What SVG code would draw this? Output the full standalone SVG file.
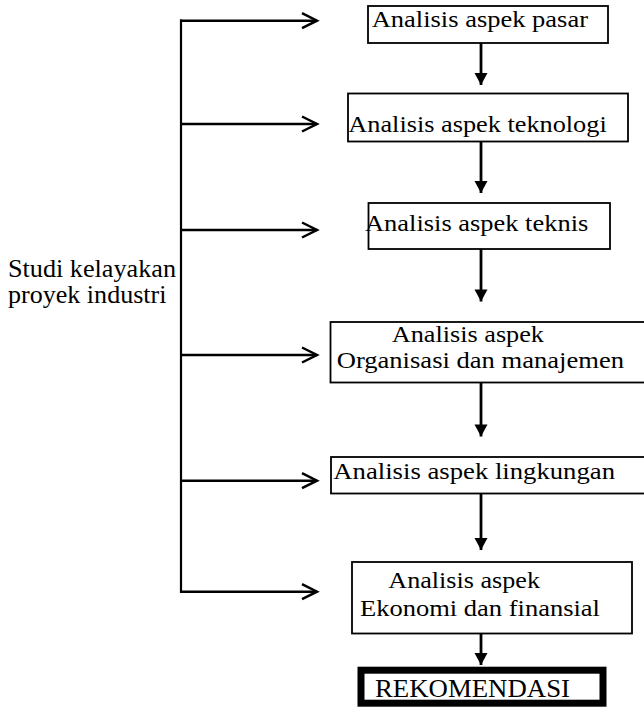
<svg xmlns="http://www.w3.org/2000/svg" width="644" height="707" viewBox="0 0 644 707">
<style>
.box{fill:#fff;stroke:#000;stroke-width:1.8}
.t{font-family:'Liberation Serif','DejaVu Serif',serif;font-size:23px;fill:#000}
.l{font-family:'Liberation Serif','DejaVu Serif',serif;font-size:25px;fill:#000}
.h{fill:none;stroke:#000;stroke-width:2.5}
.d{fill:none;stroke:#000;stroke-width:2.8}
</style>
<defs>
<marker id="open" markerUnits="userSpaceOnUse" markerWidth="20" markerHeight="20" viewBox="-17 -10 20 20" refX="0" refY="0" orient="auto">
<path d="M-15,-7.5 L0,0 L-15,7.5" fill="none" stroke="#000" stroke-width="2.5"/>
</marker>
<marker id="solid" markerUnits="userSpaceOnUse" markerWidth="16" markerHeight="16" viewBox="-13 -8 14 16" refX="0" refY="0" orient="auto">
<path d="M-12,-6.5 L0,0 L-12,6.5 Z" fill="#000"/>
</marker>
</defs>
<g id="connectors">
<line x1="181" y1="19.5" x2="181" y2="593" stroke="#000" stroke-width="2.2"/>
<line class="h" x1="180" y1="20.7" x2="317" y2="20.7" marker-end="url(#open)"/>
<line class="h" x1="180" y1="124" x2="317" y2="124" marker-end="url(#open)"/>
<line class="h" x1="180" y1="230" x2="317" y2="230" marker-end="url(#open)"/>
<line class="h" x1="180" y1="355" x2="317" y2="355" marker-end="url(#open)"/>
<line class="h" x1="180" y1="480.7" x2="317" y2="480.7" marker-end="url(#open)"/>
<line class="h" x1="180" y1="591.7" x2="317" y2="591.7" marker-end="url(#open)"/>
<line class="d" x1="481" y1="43" x2="481" y2="85" marker-end="url(#solid)"/>
<line class="d" x1="481" y1="141.5" x2="481" y2="193" marker-end="url(#solid)"/>
<line class="d" x1="481" y1="249" x2="481" y2="301.5" marker-end="url(#solid)"/>
<line class="d" x1="481" y1="382.5" x2="481" y2="436.5" marker-end="url(#solid)"/>
<line class="d" x1="481" y1="493" x2="481" y2="550" marker-end="url(#solid)"/>
<line class="d" x1="481" y1="633" x2="481" y2="665" marker-end="url(#solid)"/>
</g>
<g id="studi">
<text class="l" x="8" y="277.3" textLength="168" lengthAdjust="spacingAndGlyphs">Studi kelayakan</text>
<text class="l" x="8" y="303.3" textLength="158.5" lengthAdjust="spacingAndGlyphs">proyek industri</text>
</g>
<g id="pasar">
<rect class="box" x="368" y="6" width="240" height="37"/>
<text class="t" x="371.7" y="27.4" textLength="216.3" lengthAdjust="spacingAndGlyphs">Analisis aspek pasar</text>
</g>
<g id="teknologi">
<rect class="box" x="348" y="93.5" width="280" height="48"/>
<text class="t" x="348.3" y="131.7" textLength="258.4" lengthAdjust="spacingAndGlyphs">Analisis aspek teknologi</text>
</g>
<g id="teknis">
<rect class="box" x="368.5" y="203" width="241.5" height="46"/>
<text class="t" x="365" y="231" textLength="223.3" lengthAdjust="spacingAndGlyphs">Analisis aspek teknis</text>
</g>
<g id="organisasi">
<rect class="box" x="330.5" y="322" width="320" height="60.5"/>
<text class="t" x="391.7" y="341.7" textLength="152.3" lengthAdjust="spacingAndGlyphs">Analisis aspek</text>
<text class="t" x="336.7" y="368.3" textLength="287.3" lengthAdjust="spacingAndGlyphs">Organisasi dan manajemen</text>
</g>
<g id="lingkungan">
<rect class="box" x="331" y="457" width="320" height="36.5"/>
<text class="t" x="333.3" y="479.3" textLength="281.7" lengthAdjust="spacingAndGlyphs">Analisis aspek lingkungan</text>
</g>
<g id="ekonomi">
<rect class="box" x="352" y="562" width="280" height="71.5"/>
<text class="t" x="388.3" y="588.3" textLength="151.7" lengthAdjust="spacingAndGlyphs">Analisis aspek</text>
<text class="t" x="360" y="616" textLength="240" lengthAdjust="spacingAndGlyphs">Ekonomi dan finansial</text>
</g>
<g id="rekomendasi">
<rect x="361" y="670.2" width="242" height="33" fill="#fff" stroke="#000" stroke-width="7"/>
<text class="l" x="375" y="696.7" font-size="26" textLength="195" lengthAdjust="spacingAndGlyphs">REKOMENDASI</text>
</g>
</svg>
